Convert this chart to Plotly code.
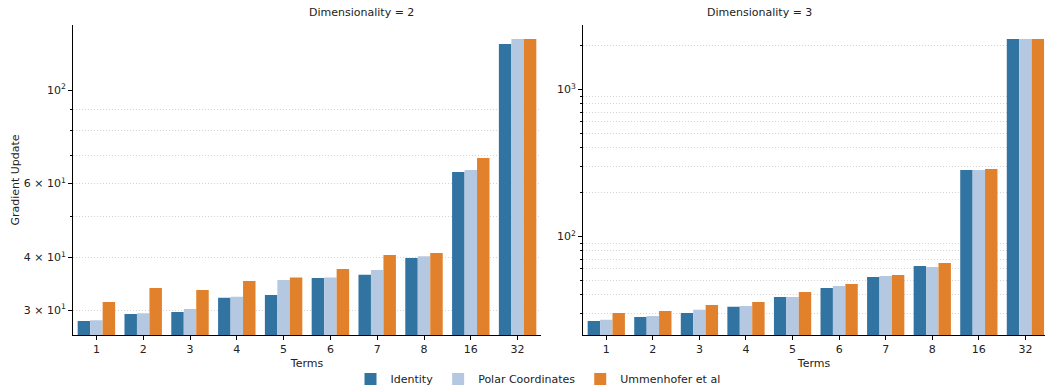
import math
import plotly.graph_objects as go
from plotly.subplots import make_subplots

terms = ["1", "2", "3", "4", "5", "6", "7", "8", "16", "32"]
series_names = ["Identity", "Polar Coordinates", "Ummenhofer et al"]
colors = ["#3274a1", "#b4c8e2", "#e1812c"]

# Dimensionality = 2
dim2_identity = [28.3, 29.4, 29.7, 32.1, 32.6, 35.8, 36.4, 39.9, 63.9, 128.6]
dim2_polar = [28.4, 29.5, 30.2, 32.3, 35.4, 35.9, 37.4, 40.3, 64.6, 132.2]
dim2_ummen = [31.4, 33.9, 33.5, 35.2, 35.9, 37.6, 40.6, 41.0, 69.0, 132.2]

# Dimensionality = 3
dim3_identity = [26.5, 28.2, 30.1, 33.1, 38.6, 44.5, 52.8, 62.8, 282.5, 2200]
dim3_polar = [27.0, 28.7, 31.6, 33.6, 38.6, 45.9, 53.7, 61.8, 282.5, 2200]
dim3_ummen = [30.1, 31.0, 34.1, 35.7, 41.8, 47.4, 54.5, 65.8, 287.0, 2200]

panel_titles = ["Dimensionality = 2", "Dimensionality = 3"]
y_title = "Gradient Update"
x_title = "Terms"

left_ticks = [30, 40, 60, 100]
left_ticktext = ["3 × 10<sup>1</sup>", "4 × 10<sup>1</sup>", "6 × 10<sup>1</sup>", "10<sup>2</sup>"]
left_minor = [30, 40, 50, 60, 70, 80, 90]
right_ticks = [100, 1000]
right_ticktext = ["10<sup>2</sup>", "10<sup>3</sup>"]
right_minor = [20, 30, 40, 50, 60, 70, 80, 90, 200, 300, 400, 500, 600, 700, 800, 900, 2000]

W, H = 1045, 388
T, B = 25, 53
PH = H - T - B
FONT = "DejaVu Sans"
TXT = "#222222"

fig = make_subplots(rows=1, cols=2)
data = [
    [dim2_identity, dim2_polar, dim2_ummen],
    [dim3_identity, dim3_polar, dim3_ummen],
]
for c in range(2):
    for s in range(3):
        fig.add_trace(
            go.Bar(
                x=terms, y=data[c][s], name=series_names[s],
                marker=dict(color=colors[s], line=dict(width=0)),
                showlegend=(c == 0),
            ),
            row=1, col=c + 1,
        )

fig.update_layout(
    width=W, height=H,
    margin=dict(l=0, r=0, t=T, b=B, autoexpand=False),
    paper_bgcolor="white", plot_bgcolor="white",
    barmode="group", bargap=0.2, bargroupgap=0,
    font=dict(family=FONT, size=11, color=TXT),
    legend=dict(orientation="h", x=538 / W, xanchor="center",
                y=(T + PH - 379) / PH, yanchor="middle",
                font=dict(size=11), itemwidth=30, traceorder="normal"),
)

xd1 = [73 / W, 541 / W]
xd2 = [583 / W, 1.0]
axis_common = dict(showline=True, linecolor="black", linewidth=1, ticks="outside",
                   ticklen=4, tickcolor="black", tickwidth=1, showgrid=False,
                   tickfont=dict(size=11, color=TXT), zeroline=False, automargin=False)

fig.update_xaxes(domain=xd1, range=[-0.5, 9.5], title=dict(text=x_title, standoff=4, font=dict(size=11)),
                 **axis_common, row=1, col=1)
fig.update_xaxes(domain=xd2, range=[-0.5, 9.5 - 3.7 / 46.6], title=dict(text=x_title, standoff=4, font=dict(size=11)),
                 **axis_common, row=1, col=2)

grid_minor = dict(tickmode="array", ticks="outside", ticklen=2, tickcolor="black",
                  showgrid=True, gridcolor="#d4d4d4", griddash="1px,2px", gridwidth=1)

fig.update_yaxes(type="log", range=[math.log10(26.2), math.log10(142.7)],
                 tickmode="array", tickvals=left_ticks, ticktext=left_ticktext,
                 minor=dict(tickvals=left_minor, **grid_minor),
                 title=dict(text=y_title, standoff=1, font=dict(size=11)),
                 **axis_common, row=1, col=1)
fig.update_yaxes(type="log", range=[math.log10(21.3), math.log10(2737)],
                 tickmode="array", tickvals=right_ticks, ticktext=right_ticktext,
                 minor=dict(tickvals=right_minor, **grid_minor),
                 **axis_common, row=1, col=2)

# dashed major gridlines (shape coords on log axes are log10 values)
for xref, yref, vals in [("x domain", "y", [100]), ("x2 domain", "y2", [100, 1000])]:
    for v in vals:
        fig.add_shape(type="line", xref=xref, yref=yref, x0=0, x1=1,
                      y0=math.log10(v), y1=math.log10(v),
                      line=dict(color="#b0b0b0", width=1, dash="4px,2px"), layer="below")

title_centers = [(73 + 541) / 2 / W, (583 + 1045) / 2 / W]
for t, cx in zip(panel_titles, title_centers):
    fig.add_annotation(text=t, x=cx, xref="paper", yref="paper", y=1, yshift=4,
                       yanchor="bottom", showarrow=False, font=dict(size=11, color=TXT))

fig.write_html("out.html", config={"displayModeBar": False},
               post_script="document.body.style.margin='0';document.body.style.padding='0';")
